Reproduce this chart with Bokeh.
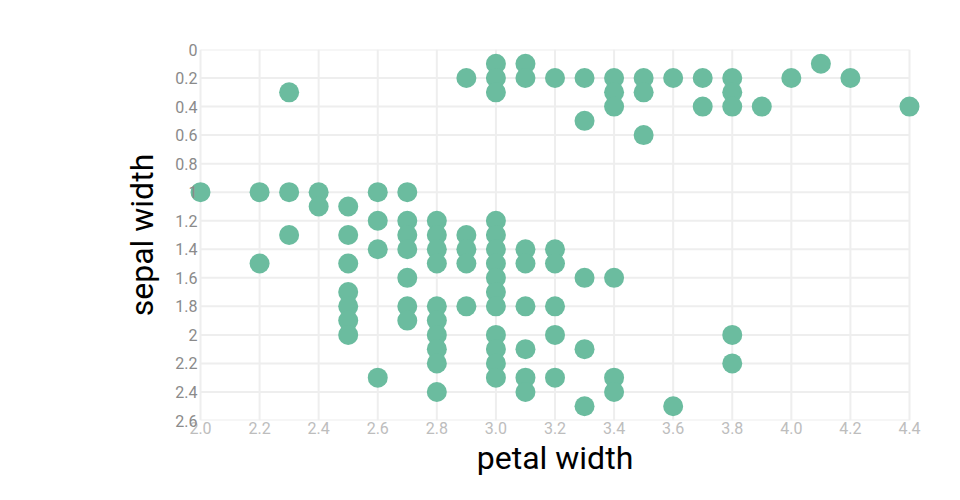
from bokeh.plotting import figure
from bokeh.models import ColumnDataSource, Range1d, FixedTicker
from bokeh.embed import file_html
from bokeh.resources import INLINE

# x: sepal width (labelled "petal width"), y: petal width (labelled "sepal width")
xs = [2.3, 2.9, 3.0, 3.0, 3.0, 3.1, 3.1, 3.2, 3.3, 3.3, 3.4, 3.4, 3.4,
      3.5, 3.5, 3.5, 3.6, 3.7, 3.7, 3.8, 3.8, 3.8, 3.9, 4.0, 4.1, 4.2, 4.4,
      2.0, 2.2, 2.2, 2.3, 2.3, 2.4, 2.4,
      2.5, 2.5, 2.5, 2.5, 2.5, 2.5, 2.5,
      2.6, 2.6, 2.6, 2.6,
      2.7, 2.7, 2.7, 2.7, 2.7, 2.7, 2.7,
      2.8, 2.8, 2.8, 2.8, 2.8, 2.8, 2.8, 2.8, 2.8, 2.8,
      2.9, 2.9, 2.9, 2.9,
      3.0, 3.0, 3.0, 3.0, 3.0, 3.0, 3.0, 3.0, 3.0, 3.0, 3.0,
      3.1, 3.1, 3.1, 3.1, 3.1, 3.1,
      3.2, 3.2, 3.2, 3.2, 3.2,
      3.3, 3.3, 3.3,
      3.4, 3.4, 3.4,
      3.6, 3.8, 3.8]
ys = [0.3, 0.2, 0.1, 0.2, 0.3, 0.1, 0.2, 0.2, 0.2, 0.5, 0.2, 0.3, 0.4,
      0.2, 0.3, 0.6, 0.2, 0.2, 0.4, 0.2, 0.3, 0.4, 0.4, 0.2, 0.1, 0.2, 0.4,
      1.0, 1.0, 1.5, 1.0, 1.3, 1.0, 1.1,
      1.1, 1.3, 1.5, 1.7, 1.8, 1.9, 2.0,
      1.0, 1.2, 1.4, 2.3,
      1.0, 1.2, 1.3, 1.4, 1.6, 1.8, 1.9,
      1.2, 1.3, 1.4, 1.5, 1.8, 1.9, 2.0, 2.1, 2.2, 2.4,
      1.3, 1.4, 1.5, 1.8,
      1.2, 1.3, 1.4, 1.5, 1.6, 1.7, 1.8, 2.0, 2.1, 2.2, 2.3,
      1.4, 1.5, 1.8, 2.1, 2.3, 2.4,
      1.4, 1.5, 1.8, 2.0, 2.3,
      1.6, 2.1, 2.5,
      1.6, 2.3, 2.4,
      2.5, 2.0, 2.2]

x_ticks = [2.0, 2.2, 2.4, 2.6, 2.8, 3.0, 3.2, 3.4, 3.6, 3.8, 4.0, 4.2, 4.4]
y_ticks = [0, 0.2, 0.4, 0.6, 0.8, 1.0, 1.2, 1.4, 1.6, 1.8, 2.0, 2.2, 2.4, 2.6]
x_tick_labels = {t: f"{t:.1f}" for t in x_ticks}
y_tick_labels = {0: "0", 0.2: "0.2", 0.4: "0.4", 0.6: "0.6", 0.8: "0.8", 1.0: "1",
                 1.2: "1.2", 1.4: "1.4", 1.6: "1.6", 1.8: "1.8", 2.0: "2",
                 2.2: "2.2", 2.4: "2.4", 2.6: "2.6"}

x_min, x_max = x_ticks[0], x_ticks[-1]
y_min, y_max = y_ticks[0], y_ticks[-1]

# extra horizontal room so markers at the data edges are not clipped
inner_w = 709
pad_px = 11
pad = pad_px * (x_max - x_min) / inner_w

p = figure(width=952, height=492, output_backend="svg", toolbar_location=None,
           x_range=Range1d(x_min - pad, x_max + pad), y_range=Range1d(y_max, y_min),
           min_border_left=200 - pad_px, min_border_right=952 - 200 - inner_w - pad_px,
           min_border_top=49, min_border_bottom=72)
p.outline_line_color = None
p.background_fill_color = "white"
p.border_fill_color = "white"
p.xgrid.visible = False
p.ygrid.visible = False

# grid lines limited to the data extent
grid_color = "#eeeeee"
p.segment(x0=x_ticks, y0=[y_min] * len(x_ticks), x1=x_ticks, y1=[y_max] * len(x_ticks),
          line_color=grid_color, line_width=2)
p.segment(x0=[x_min] * len(y_ticks), y0=y_ticks, x1=[x_max] * len(y_ticks), y1=y_ticks,
          line_color=grid_color, line_width=2)

src = ColumnDataSource(dict(x=xs, y=ys))
p.scatter("x", "y", source=src, size=20, fill_color="#6bbc9f", line_color=None)

p.xaxis.ticker = FixedTicker(ticks=x_ticks)
p.yaxis.ticker = FixedTicker(ticks=y_ticks)
p.xaxis.major_label_overrides = x_tick_labels
p.yaxis.major_label_overrides = y_tick_labels

for ax in (p.xaxis, p.yaxis):
    ax.axis_line_color = None
    ax.major_tick_line_color = None
    ax.minor_tick_line_color = None
    ax.major_tick_out = 0
    ax.major_tick_in = 0
    ax.major_label_text_font = "Roboto"
    ax.major_label_text_font_size = "16px"
    ax.axis_label_text_font = "Roboto"
    ax.axis_label_text_font_size = "32px"
    ax.axis_label_text_font_style = "normal"
    ax.axis_label_text_color = "black"

p.xaxis.major_label_text_color = "#bdbdbd"
p.yaxis.major_label_text_color = "#8a8a8a"
p.xaxis.major_label_standoff = 1
p.yaxis.major_label_standoff = 3 - pad_px
p.xaxis.axis_label = "petal width"
p.yaxis.axis_label = "sepal width"
p.xaxis.axis_label_standoff = 2
p.yaxis.axis_label_standoff = 11

open("out.html", "w").write(file_html(p, INLINE))
